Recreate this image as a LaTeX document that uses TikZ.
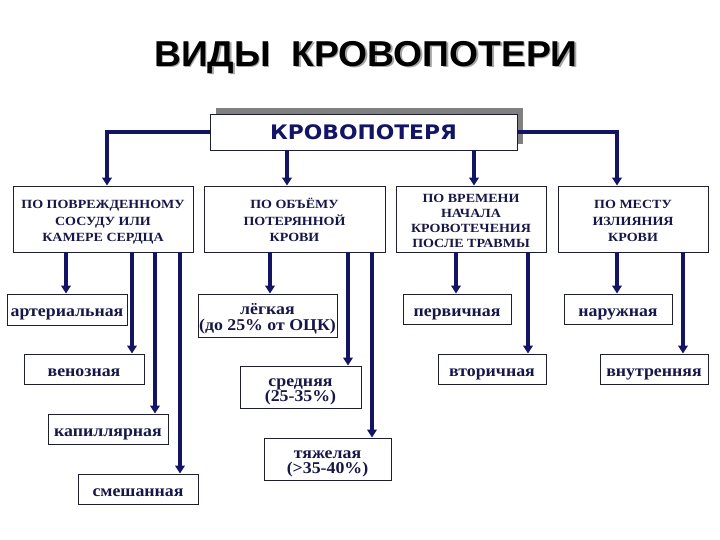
\documentclass[tikz,border=0pt]{standalone}
\usepackage{fontspec}
\setmainfont{Liberation Serif}
\newfontfamily\titlefont[FakeStretch=1.035]{Liberation Sans Bold}
\newfontfamily\mainfont[FakeStretch=1.09]{DejaVu Sans Bold}
\newfontfamily\catfont[FakeStretch=1.12]{Liberation Serif Bold}
\newfontfamily\leaffont[FakeStretch=1.08]{Liberation Serif Bold}
\usetikzlibrary{arrows.meta,shadows}
\definecolor{navy}{RGB}{20,20,100}
\definecolor{ink}{RGB}{22,22,72}
\definecolor{edge}{RGB}{30,30,50}
\tikzset{
  box/.style={draw=edge, line width=0.9pt, fill=white, inner sep=0pt, align=center, text=ink},
  cat/.style={box, minimum height=66pt, font=\catfont\fontsize{12.5}{16.5}\selectfont, text height=46pt, text depth=0.7pt},
  catfour/.style={box, minimum height=66pt, font=\catfont\fontsize{12.5}{15}\selectfont, text height=58pt, text depth=0.7pt},
  leaf/.style={box, font=\leaffont\fontsize{16.5}{15.5}\selectfont, text height=14pt, text depth=0pt},
  leaftwo/.style={box, font=\leaffont\fontsize{16.5}{15.5}\selectfont, text height=30pt, text depth=0.9pt},
  arr/.style={navy, line width=3.2pt, -{Triangle[length=8pt,width=9.5pt]}},
}
\begin{document}
\begin{tikzpicture}[x=1pt,y=-1pt]
\useasboundingbox (0,0) rectangle (720,540);
% title
\node[text=black!35, font=\titlefont\fontsize{36}{40}\selectfont] (tshadow) at (367.5,59) {ВИДЫ\ \ КРОВОПОТЕРИ};
\node[text=black, font=\titlefont\fontsize{36}{40}\selectfont] (title) at (366,57.5) {ВИДЫ\ \ КРОВОПОТЕРИ};
% main box
\node[box, minimum width=307pt, minimum height=36pt, text=navy,
      font=\mainfont\fontsize{20}{24}\selectfont,
      drop shadow={shadow xshift=6pt, shadow yshift=6pt, fill=black!50, opacity=1}] (main) at (363.5,132) {КРОВОПОТЕРЯ};
% categories
\node[cat, minimum width=180pt] (c1) at (103,219) {ПО ПОВРЕЖДЕННОМУ\\СОСУДУ ИЛИ\\КАМЕРЕ СЕРДЦА};
\node[cat, minimum width=181pt] (c2) at (294.5,219) {ПО ОБЪЁМУ\\ПОТЕРЯННОЙ\\КРОВИ};
\node[catfour, minimum width=150pt] (c3) at (471,219) {ПО ВРЕМЕНИ\\НАЧАЛА\\КРОВОТЕЧЕНИЯ\\ПОСЛЕ ТРАВМЫ};
\node[cat, minimum width=150pt] (c4) at (633,219) {ПО МЕСТУ\\ИЗЛИЯНИЯ\\КРОВИ};
% leaves
\node[leaf, minimum width=120pt, minimum height=31pt] (art) at (67,309.5) {артериальная};
\node[leaf, minimum width=120pt, minimum height=30pt] (ven) at (84,369) {венозная};
\node[leaf, minimum width=120pt, minimum height=30pt] (cap) at (108,429) {капиллярная};
\node[leaf, minimum width=120pt, minimum height=30pt] (mix) at (138,489) {смешанная};
\node[leaftwo, minimum width=139pt, minimum height=43pt] (light) at (267.5,315.5) {лёгкая\\(до 25\% от ОЦК)};
\node[leaftwo, minimum width=121pt, minimum height=42pt] (mid) at (300.5,387) {средняя\\(25-35\%)};
\node[leaftwo, minimum width=127pt, minimum height=42pt] (heavy) at (327.5,459) {тяжелая\\(>35-40\%)};
\node[leaf, minimum width=108pt, minimum height=30pt] (prim) at (457,309) {первичная};
\node[leaf, minimum width=108pt, minimum height=30pt] (sec) at (492,369) {вторичная};
\node[leaf, minimum width=108pt, minimum height=30pt] (ext) at (618,309) {наружная};
\node[leaf, minimum width=108pt, minimum height=30pt] (int) at (654,369) {внутренняя};
% connectors from main
\draw[arr] (main.west) -| (c1.north -| 107,0);
\draw[arr] (main.east) -| (c4.north -| 617,0);
\draw[arr] (main.south -| 287,0) -- (c2.north -| 287,0);
\draw[arr] (main.south -| 474,0) -- (c3.north -| 474,0);
% category 1
\draw[arr] (c1.south -| 66,0) -- (art.north -| 66,0);
\draw[arr] (c1.south -| 132,0) -- (ven.north -| 132,0);
\draw[arr] (c1.south -| 155,0) -- (cap.north -| 155,0);
\draw[arr] (c1.south -| 180,0) -- (mix.north -| 180,0);
% category 2
\draw[arr] (c2.south -| 270,0) -- (light.north -| 270,0);
\draw[arr] (c2.south -| 348,0) -- (mid.north -| 348,0);
\draw[arr] (c2.south -| 372,0) -- (heavy.north -| 372,0);
% category 3
\draw[arr] (c3.south -| 456,0) -- (prim.north -| 456,0);
\draw[arr] (c3.south -| 528,0) -- (sec.north -| 528,0);
% category 4
\draw[arr] (c4.south -| 617,0) -- (ext.north -| 617,0);
\draw[arr] (c4.south -| 683,0) -- (int.north -| 683,0);
\end{tikzpicture}
\end{document}
